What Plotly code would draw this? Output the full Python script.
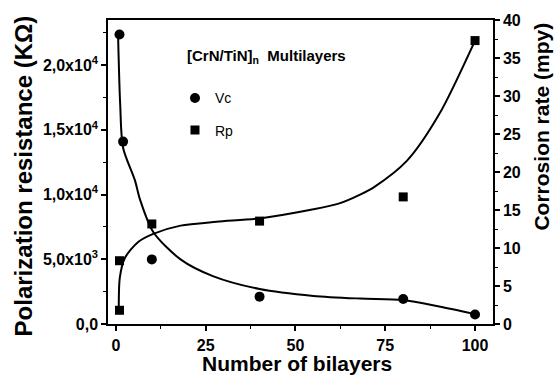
import plotly.graph_objects as go

# measured data points
vc_x = [1, 2, 10, 40, 80, 100]
vc_y = [38.1, 24.0, 8.5, 3.6, 3.3, 1.25]          # corrosion rate (mpy), right axis
rp_x = [1, 1, 10, 40, 80, 100]
rp_y = [1060, 4890, 7730, 7950, 9820, 21900]       # polarization resistance, left axis

# fitted curves
vc_fit_x = [0.6, 1.2, 2.0, 5.3, 6.7, 10.4, 18, 27, 40, 55, 68, 80, 90, 100]
vc_fit_y = [38.0, 28.8, 23.2, 18.9, 16.4, 12.1, 8.5, 6.3, 4.6, 3.7, 3.35, 3.15, 2.3, 1.3]
rp_fit_x = [0.8, 1.1, 2.5, 6.2, 10.4, 18, 28, 40, 55, 62, 68, 72, 81, 90, 100]
rp_fit_y = [1060, 3600, 5100, 6340, 6970, 7600, 7900, 8160, 8860, 9300, 10000, 10600, 12600, 16200, 21900]

left_tickvals = [0, 5000, 10000, 15000, 20000]
left_ticktext = ["0,0", "5,0x10<sup>3</sup>", "1,0x10<sup>4</sup>", "1,5x10<sup>4</sup>", "2,0x10<sup>4</sup>"]
x_tickvals = [0, 25, 50, 75, 100]
right_tickvals = [0, 5, 10, 15, 20, 25, 30, 35, 40]

FONT = "Liberation Sans, Arial, sans-serif"
bold = dict(family=FONT, color="black", weight="bold")

fig = go.Figure()
fig.add_trace(go.Scatter(x=rp_fit_x, y=rp_fit_y, mode="lines", line=dict(color="black", width=2, shape="spline", smoothing=0.8),
                         showlegend=False, hoverinfo="skip"))
fig.add_trace(go.Scatter(x=vc_fit_x, y=vc_fit_y, mode="lines", yaxis="y2",
                         line=dict(color="black", width=2, shape="spline", smoothing=0.8),
                         showlegend=False, hoverinfo="skip"))
fig.add_trace(go.Scatter(x=vc_x, y=vc_y, mode="markers", yaxis="y2", name="Vc",
                         marker=dict(symbol="circle", size=10, color="black"), legendgroup="a", cliponaxis=False))
fig.add_trace(go.Scatter(x=rp_x, y=rp_y, mode="markers", name="Rp",
                         marker=dict(symbol="square", size=9, color="black"), legendgroup="b", cliponaxis=False))

fig.update_layout(
    width=554, height=376,
    margin=dict(l=108, r=61, t=13, b=52),
    paper_bgcolor="white", plot_bgcolor="white",
    font=dict(family=FONT, color="black"),
    showlegend=True,
    legend=dict(x=0.174, y=0.795, xanchor="left", yanchor="top", bgcolor="rgba(0,0,0,0)",
                font=dict(family=FONT, size=14, color="black"), tracegroupgap=11,
                traceorder="grouped", itemclick=False),
    xaxis=dict(range=[-2.2, 105], tickvals=x_tickvals, showgrid=False, zeroline=False,
               showline=True, linecolor="black", linewidth=1.5, mirror=True,
               ticks="outside", ticklen=5, tickwidth=1.5, tickcolor="black",
               ticklabelstandoff=1,
               tickfont=dict(size=16, **bold),
               minor=dict(ticks="outside", ticklen=3, tickwidth=1.2, dtick=12.5, tick0=0, tickcolor="black", showgrid=False)),
    yaxis=dict(range=[0, 23490], tickvals=left_tickvals, ticktext=left_ticktext, showgrid=False, zeroline=False,
               showline=True, linecolor="black", linewidth=1.5,
               ticks="outside", ticklen=5, tickwidth=1.5, tickcolor="black",
               tickfont=dict(size=16, **bold),
               minor=dict(ticks="outside", ticklen=3, tickwidth=1.2, dtick=2500, tick0=0, tickcolor="black", showgrid=False)),
    yaxis2=dict(range=[0, 40], overlaying="y", side="right", tickvals=right_tickvals, showgrid=False, zeroline=False,
                showline=True, linecolor="black", linewidth=1.5,
                ticks="outside", ticklen=5, tickwidth=1.5, tickcolor="black",
                tickfont=dict(size=16, **bold),
                minor=dict(ticks="outside", ticklen=3, tickwidth=1.2, dtick=2.5, tick0=0, tickcolor="black", showgrid=False)),
    annotations=[
        dict(text="[CrN/TiN]<sub>n</sub>  Multilayers", xref="paper", yref="paper", x=(185 - 108) / 385, y=(324 - 50) / 311,
             xanchor="left", yanchor="middle", showarrow=False, font=dict(size=15, **bold)),
        dict(text="Number of bilayers", xref="paper", yref="paper", x=(296.5 - 108) / 385, y=(324 - 378) / 311,
             xanchor="center", yanchor="bottom", showarrow=False, font=dict(size=21, **bold)),
        dict(text="Polarization resistance (KΩ)", xref="paper", yref="paper", x=(23 - 108) / 385, y=(324 - 173) / 311,
             xanchor="center", yanchor="middle", showarrow=False, textangle=-90, font=dict(size=24, **bold)),
        dict(text="Corrosion rate (mpy)", xref="paper", yref="paper", x=(542 - 108) / 385, y=(324 - 122) / 311,
             xanchor="center", yanchor="middle", showarrow=False, textangle=-90, font=dict(size=21, **bold)),
    ],
)

fig.write_html("out.html")
